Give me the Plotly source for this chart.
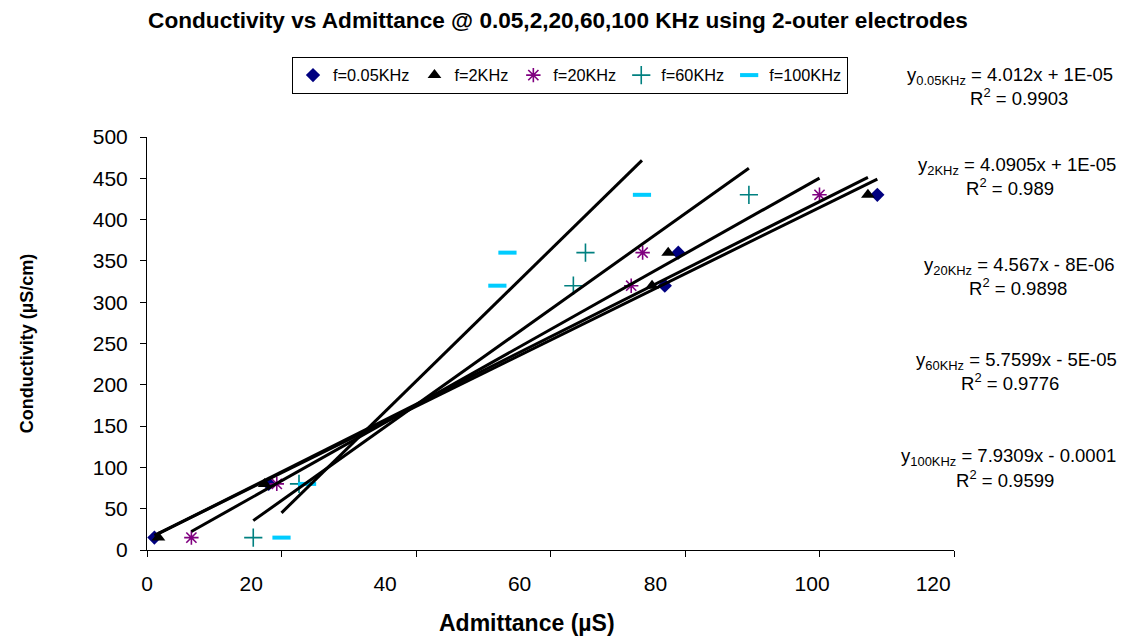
import numpy as np
import plotly.graph_objects as go

# ---------------- data ----------------
conductivity = [15, 80, 320, 360, 430]          # µS/cm (shared by every series)
adm_005k = [1.1, 18.1, 77.0, 79.0, 108.6]        # µS @ 0.05 kHz
adm_2k = [1.7, 17.5, 75.1, 77.5, 107.2]          # µS @ 2 kHz
adm_20k = [6.6, 19.3, 72.0, 73.7, 100.0]         # µS @ 20 kHz
adm_60k = [15.8, 22.6, 63.4, 65.2, 89.5]         # µS @ 60 kHz
adm_100k = [20.0, 23.8, 52.1, 53.6, 73.6]        # µS @ 100 kHz

series_names = ["f=0.05KHz", "f=2KHz", "f=20KHz", "f=60KHz", "f=100KHz"]
eq_subs = ["0.05KHz", "2KHz", "20KHz", "60KHz", "100KHz"]
eq_rhs = ["4.012x + 1E-05", "4.0905x + 1E-05", "4.567x - 8E-06",
          "5.7599x - 5E-05", "7.9309x - 0.0001"]
eq_r2 = ["0.9903", "0.989", "0.9898", "0.9776", "0.9599"]

x_ticks = [0, 20, 40, 60, 80, 100, 120]
x_tick_text = ["0", "20", "40", "60", "80", "100", "120"]
y_ticks = [0, 50, 100, 150, 200, 250, 300, 350, 400, 450, 500]

# ---------------- styles ----------------
FONT = "Liberation Sans, Arial, sans-serif"
styles = [
    dict(symbol="diamond", size=11, color="#000080", line=dict(width=0)),
    dict(symbol="triangle-up", size=12, color="#000000", line=dict(width=0)),
    dict(symbol="asterisk-open", size=12, color="#800080", line=dict(width=1.6, color="#800080")),
    dict(symbol="cross-thin-open", size=13, color="#008080", line=dict(width=1.6, color="#008080")),
    dict(symbol="line-ew-open", size=13, color="#00CCFF", line=dict(width=4, color="#00CCFF")),
]
# where the original draws its x tick labels (label centres, in axis units)
x_label_pos = [0, 15.5, 35.4, 55.4, 75.6, 98.9, 116.9]

# page geometry
W, H = 1121, 641
L, R, T, B = 147, 954, 137, 550


def px_to_paper(px, py):
    return (px - L) / (R - L), (B - py) / (B - T)


fig = go.Figure()
all_x = [adm_005k, adm_2k, adm_20k, adm_60k, adm_100k]

for name, xs, st in zip(series_names, all_x, styles):
    fig.add_trace(go.Scatter(x=xs, y=conductivity, mode="markers", name=name,
                             marker=st, xaxis="x", yaxis="y"))

# linear trendlines (least squares) over each series' x range
for xs in all_x:
    xa = np.array(xs, dtype=float)
    ya = np.array(conductivity, dtype=float)
    m, c = np.polyfit(xa, ya, 1)
    xl = np.array([xa.min(), xa.max()])
    fig.add_trace(go.Scatter(x=xl, y=m * xl + c, mode="lines", showlegend=False,
                             line=dict(color="black", width=3), hoverinfo="skip"))

# invisible copy of one series on the label axis so that it gets drawn
fig.add_trace(go.Scatter(x=adm_005k, y=conductivity, xaxis="x2", yaxis="y",
                         mode="markers", marker=dict(opacity=0), showlegend=False,
                         hoverinfo="skip"))

# equation annotations (pixel positions on the page)
eq_line1 = [(905, 76), (916, 166), (922, 266), (914, 361), (899, 457)]
eq_line2 = [(1019, 97), (1010, 187), (1018, 287), (1010, 382), (1005, 479)]
annotations = []
for sub, rhs, r2, p1, p2 in zip(eq_subs, eq_rhs, eq_r2, eq_line1, eq_line2):
    ax, ay = px_to_paper(*p1)
    annotations.append(dict(xref="paper", yref="paper", x=ax, y=ay, xanchor="left",
                            yanchor="middle", showarrow=False,
                            text=f"y<sub>{sub}</sub> = {rhs}",
                            font=dict(family=FONT, size=18.5, color="black")))
    bx, by = px_to_paper(*p2)
    annotations.append(dict(xref="paper", yref="paper", x=bx, y=by, xanchor="center",
                            yanchor="middle", showarrow=False,
                            text=f"R<sup>2</sup> = {r2}",
                            font=dict(family=FONT, size=18.5, color="black")))

# x axis title
tx, ty = px_to_paper(527, 623)
annotations.append(dict(xref="paper", yref="paper", x=tx, y=ty, xanchor="center",
                        yanchor="middle", showarrow=False,
                        text="<b>Admittance (µS)</b>",
                        font=dict(family=FONT, size=23, color="black")))

lx, ly = px_to_paper(292, 57)

fig.update_layout(
    width=W, height=H,
    margin=dict(l=L, r=W - R, t=T, b=H - B, pad=0),
    paper_bgcolor="white", plot_bgcolor="white",
    font=dict(family=FONT, size=20, color="black"),
    title=dict(text="<b>Conductivity vs Admittance @ 0.05,2,20,60,100 KHz using 2-outer electrodes</b>",
               x=558 / W, xanchor="center", y=1 - 20 / H, yanchor="middle",
               font=dict(family=FONT, size=22.6, color="black")),
    showlegend=True,
    legend=dict(orientation="h", x=lx, y=ly, xanchor="left", yanchor="top",
                bordercolor="black", borderwidth=1, bgcolor="white",
                font=dict(family=FONT, size=16.3, color="black"),
                itemwidth=30, tracegroupgap=0),
    xaxis=dict(range=[0, 120], tickvals=x_ticks, showticklabels=False,
               ticks="outside", ticklen=6, tickwidth=1, tickcolor="black",
               showline=True, linecolor="black", linewidth=1,
               showgrid=False, zeroline=False, fixedrange=True),
    xaxis2=dict(range=[0, 120], overlaying="x", anchor="y", side="bottom",
                tickvals=x_label_pos, ticktext=x_tick_text, ticks="",
                ticklabelstandoff=19, showline=False, showgrid=False,
                zeroline=False, tickfont=dict(family=FONT, size=21, color="black")),
    yaxis=dict(range=[0, 500], tickvals=y_ticks, ticks="outside", ticklen=6,
               tickwidth=1, tickcolor="black", showline=True, linecolor="black",
               linewidth=1, showgrid=False, zeroline=False,
               ticklabelstandoff=8, tickfont=dict(family=FONT, size=21, color="black"),
               title=dict(text="<b>Conductivity (µS/cm)</b>", standoff=54,
                          font=dict(family=FONT, size=18, color="black"))),
    annotations=annotations,
)

fig.write_html("out.html")
